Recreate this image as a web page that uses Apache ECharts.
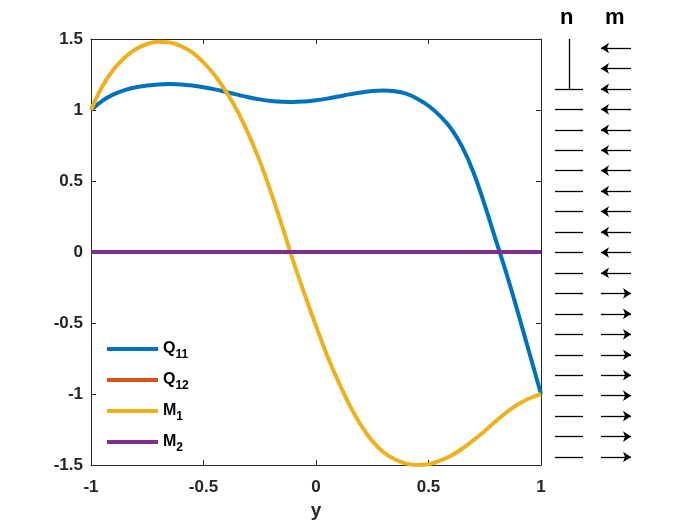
<!DOCTYPE html>
<html>
<head>
<meta charset="utf-8">
<script src="https://cdn.jsdelivr.net/npm/echarts@6/dist/echarts.min.js"></script>
<style>
  html, body { margin: 0; padding: 0; background: #fff; }
  #chart { width: 700px; height: 525px; }
</style>
</head>
<body>
<div id="chart"></div>
<script>
"use strict";

// positions along y
var ys = [-1.0, -0.95, -0.9, -0.85, -0.8, -0.75, -0.7, -0.65, -0.6, -0.55, -0.5,
          -0.45, -0.4, -0.35, -0.3, -0.25, -0.2, -0.15, -0.1, -0.05, 0.0,
          0.05, 0.1, 0.15, 0.2, 0.25, 0.3, 0.35, 0.4, 0.45, 0.5,
          0.55, 0.6, 0.65, 0.7, 0.75, 0.8, 0.85, 0.9, 0.95, 1.0];

var q11 = [1.00, 1.065, 1.11, 1.14, 1.16, 1.172, 1.18, 1.183, 1.18, 1.172, 1.16,
           1.145, 1.127, 1.108, 1.09, 1.075, 1.064, 1.058, 1.056, 1.06, 1.068,
           1.08, 1.095, 1.11, 1.123, 1.133, 1.137, 1.132, 1.115, 1.08, 1.03,
           0.96, 0.87, 0.74, 0.56, 0.33, 0.08, -0.17, -0.44, -0.72, -1.00];

var q12 = [0, 0, 0, 0, 0, 0, 0, 0, 0, 0, 0,
           0, 0, 0, 0, 0, 0, 0, 0, 0, 0,
           0, 0, 0, 0, 0, 0, 0, 0, 0, 0,
           0, 0, 0, 0, 0, 0, 0, 0, 0, 0];

var m1 = [1.00, 1.165, 1.285, 1.37, 1.43, 1.465, 1.48, 1.475, 1.45, 1.405, 1.335,
          1.245, 1.13, 0.995, 0.83, 0.64, 0.42, 0.18, -0.07, -0.30, -0.52,
          -0.73, -0.915, -1.08, -1.22, -1.33, -1.41, -1.46, -1.49, -1.50, -1.495,
          -1.47, -1.435, -1.385, -1.325, -1.26, -1.19, -1.125, -1.07, -1.03, -1.00];

var m2 = [0, 0, 0, 0, 0, 0, 0, 0, 0, 0, 0,
          0, 0, 0, 0, 0, 0, 0, 0, 0, 0,
          0, 0, 0, 0, 0, 0, 0, 0, 0, 0,
          0, 0, 0, 0, 0, 0, 0, 0, 0, 0];

var seriesNames = ['Q11', 'Q12', 'M1', 'M2'];
var seriesColors = ['#0072BD', '#D95319', '#EDB120', '#7E2F8E'];

var xTicks = [-1, -0.5, 0, 0.5, 1];
var yTicks = [-1.5, -1, -0.5, 0, 0.5, 1, 1.5];

// side diagram: rows top to bottom, arrow direction of m (-1 left, 1 right)
var mRows = [0, 1, 2, 3, 4, 5, 6, 7, 8, 9, 10, 11, 12, 13, 14, 15, 16, 17, 18, 19, 20];
var mDir = [-1, -1, -1, -1, -1, -1, -1, -1, -1, -1, -1, -1, 1, 1, 1, 1, 1, 1, 1, 1, 1];
var nRows = [2, 3, 4, 5, 6, 7, 8, 9, 10, 11, 12, 13, 14, 15, 16, 17, 18, 19, 20];
var nStem = [-0.45, 2];

function pairs(xsArr, vals) {
  return xsArr.map(function (x, i) { return [x, vals[i]]; });
}

var axisColor = '#262626';
var fontFam = '"Liberation Sans", Arial, sans-serif';

var chart = echarts.init(document.getElementById('chart'));

var series = [q11, q12, m1, m2].map(function (vals, i) {
  return {
    name: seriesNames[i],
    type: 'line',
    xAxisIndex: 0,
    yAxisIndex: 0,
    data: pairs(ys, vals),
    smooth: 0.4,
    showSymbol: false,
    symbol: 'none',
    color: seriesColors[i],
    lineStyle: { width: 4, color: seriesColors[i] },
    z: 2 + i
  };
});

// m arrows
series.push({
  type: 'lines',
  coordinateSystem: 'cartesian2d',
  xAxisIndex: 2,
  yAxisIndex: 2,
  clip: false,
  symbol: ['none', 'arrow'],
  symbolSize: 8,
  lineStyle: { color: '#000', width: 1.3, opacity: 1 },
  silent: true,
  data: mRows.map(function (r, i) {
    return mDir[i] < 0 ? { coords: [[86, r], [56, r]] } : { coords: [[56, r], [86, r]] };
  })
});

// n bars
series.push({
  type: 'lines',
  coordinateSystem: 'cartesian2d',
  xAxisIndex: 2,
  yAxisIndex: 2,
  clip: false,
  symbol: 'none',
  lineStyle: { color: '#000', width: 1.3, opacity: 1 },
  silent: true,
  data: nRows.map(function (r) {
    return { coords: [[10, r], [38, r]] };
  }).concat([{ coords: [[24, nStem[0]], [24, nStem[1]]] }])
});

var option = {
  animation: false,
  backgroundColor: '#fff',
  grid: [
    { left: 91, right: 159, top: 39, bottom: 60 },
    { left: 545, width: 100, top: 48, height: 409 }
  ],
  legend: {
    data: seriesNames,
    orient: 'vertical',
    left: 107,
    top: 341,
    padding: 0,
    itemWidth: 51,
    itemHeight: 4,
    itemGap: 11,
    icon: 'rect',
    formatter: function (name) {
      return '{b|' + name.charAt(0) + '}{s|' + name.slice(1) + '}';
    },
    textStyle: {
      color: '#000',
      rich: {
        b: { fontSize: 16, fontWeight: 'bold', fontFamily: fontFam, color: '#000', lineHeight: 24 },
        s: { fontSize: 12, fontWeight: 'bold', fontFamily: fontFam, color: '#000', lineHeight: 8, verticalAlign: 'bottom' }
      }
    }
  },
  xAxis: [
    {
      type: 'value', gridIndex: 0, min: -1, max: 1, interval: 0.5,
      position: 'bottom',
      name: 'y', nameLocation: 'middle', nameGap: 35,
      nameTextStyle: { fontSize: 19, fontWeight: 'bold', color: axisColor, fontFamily: fontFam },
      axisLine: { show: true, onZero: false, lineStyle: { color: axisColor, width: 1 } },
      axisTick: { show: true, inside: true, length: 5, lineStyle: { color: axisColor } },
      axisLabel: {
        fontSize: 17, fontWeight: 'bold', color: axisColor, fontFamily: fontFam, margin: 14,
        formatter: function (v) { return xTicks.indexOf(v) >= 0 ? String(v) : ''; }
      },
      splitLine: { show: false }
    },
    {
      type: 'value', gridIndex: 0, min: -1, max: 1, interval: 0.5,
      position: 'top',
      axisLine: { show: true, onZero: false, lineStyle: { color: axisColor, width: 1 } },
      axisTick: { show: true, inside: true, length: 5, lineStyle: { color: axisColor } },
      axisLabel: { show: false },
      splitLine: { show: false }
    },
    {
      type: 'value', gridIndex: 1, min: 0, max: 100, show: false
    }
  ],
  yAxis: [
    {
      type: 'value', gridIndex: 0, min: -1.5, max: 1.5, interval: 0.5,
      position: 'left',
      axisLine: { show: true, onZero: false, lineStyle: { color: axisColor, width: 1 } },
      axisTick: { show: true, inside: true, length: 5, lineStyle: { color: axisColor } },
      axisLabel: {
        fontSize: 17, fontWeight: 'bold', color: axisColor, fontFamily: fontFam, margin: 8,
        formatter: function (v) { return yTicks.indexOf(v) >= 0 ? String(v) : ''; }
      },
      splitLine: { show: false }
    },
    {
      type: 'value', gridIndex: 0, min: -1.5, max: 1.5, interval: 0.5,
      position: 'right',
      axisLine: { show: true, onZero: false, lineStyle: { color: axisColor, width: 1 } },
      axisTick: { show: true, inside: true, length: 5, lineStyle: { color: axisColor } },
      axisLabel: { show: false },
      splitLine: { show: false }
    },
    {
      type: 'value', gridIndex: 1, min: 0, max: 20, inverse: true, show: false
    }
  ],
  graphic: [
    {
      type: 'text', left: 560, top: 7,
      style: { text: 'n', fontSize: 22, fontWeight: 'bold', fontFamily: fontFam, fill: '#000' }
    },
    {
      type: 'text', left: 605, top: 7,
      style: { text: 'm', fontSize: 22, fontWeight: 'bold', fontFamily: fontFam, fill: '#000' }
    }
  ],
  series: series
};

chart.setOption(option);
</script>
</body>
</html>
